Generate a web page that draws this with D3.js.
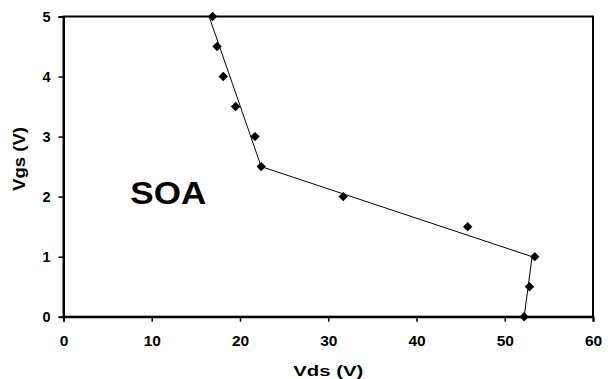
<!DOCTYPE html>
<html><head><meta charset="utf-8">
<script src="https://cdn.jsdelivr.net/npm/d3@7"></script>
<style>body{margin:0;background:#fff}svg{display:block}</style>
</head><body>
<script>
const vds = [16.9, 17.4, 18.1, 19.5, 21.7, 22.4, 31.7, 45.8, 53.4, 52.8, 52.2];
const vgs = [5, 4.5, 4, 3.5, 3, 2.5, 2, 1.5, 1, 0.5, 0];
const lineVds = [16.5, 22.4, 53.1, 52.2];
const lineVgs = [5, 2.5, 1, 0];
const xTicks = [0, 10, 20, 30, 40, 50, 60];
const yTicks = [0, 1, 2, 3, 4, 5];

const W = 608, H = 379;
const L = 63.5, R = 593, T = 16.5, B = 316.7;
const svg = d3.select("body").append("svg").attr("width", W).attr("height", H);
const x = d3.scaleLinear().domain([0, 60]).range([L, R]);
const y = d3.scaleLinear().domain([0, 5]).range([B, T]);
const font = "Liberation Sans, Arial, sans-serif";

// plot border
svg.append("rect").attr("x", L).attr("y", T).attr("width", R - L).attr("height", B - T)
  .attr("fill", "none").attr("stroke", "#000").attr("stroke-width", 2);

const xa = svg.append("g").attr("transform", `translate(0,${B})`)
  .call(d3.axisBottom(x).tickValues(xTicks).tickSize(5).tickPadding(14).tickFormat(d3.format("d")));
const ya = svg.append("g").attr("transform", `translate(${L},0)`)
  .call(d3.axisLeft(y).tickValues(yTicks).tickSize(5).tickPadding(8).tickFormat(d3.format("d")));
[xa, ya].forEach(a => {
  a.select(".domain").attr("stroke", "#000").attr("stroke-width", 2);
  a.selectAll(".tick line").attr("stroke", "#000").attr("stroke-width", 1.5);
  a.selectAll("text").attr("font-family", font).attr("font-weight", "bold").attr("font-size", 14.5).attr("fill", "#000");
});
xa.selectAll("text").attr("transform", "scale(1.07,1)");

// line
const pts = lineVds.map((v, i) => [v, lineVgs[i]]);
svg.append("path").datum(pts)
  .attr("d", d3.line().x(d => x(d[0])).y(d => y(d[1])))
  .attr("fill", "none").attr("stroke", "#000").attr("stroke-width", 1);

// markers
const s = 4.7;
svg.append("g").selectAll("path").data(vds.map((v, i) => [v, vgs[i]])).join("path")
  .attr("transform", d => `translate(${x(d[0])},${y(d[1])})`)
  .attr("d", `M0,${-s}L${s},0L0,${s}L${-s},0Z`).attr("fill", "#000");

// texts
svg.append("text").attr("x", 328.3).attr("y", 375.5).attr("text-anchor", "middle")
  .attr("font-family", font).attr("font-weight", "bold").attr("font-size", 15.5)
  .attr("textLength", 70).attr("lengthAdjust", "spacingAndGlyphs").text("Vds (V)");
svg.append("text").attr("transform", `translate(25,159) rotate(-90)`).attr("text-anchor", "middle")
  .attr("font-family", font).attr("font-weight", "bold").attr("font-size", 16)
  .attr("textLength", 64).attr("lengthAdjust", "spacingAndGlyphs").text("Vgs (V)");
svg.append("text").attr("x", 168.3).attr("y", 203.5).attr("text-anchor", "middle")
  .attr("font-family", font).attr("font-weight", "bold").attr("font-size", 32)
  .attr("textLength", 76).attr("lengthAdjust", "spacingAndGlyphs").text("SOA");
</script>
</body></html>
